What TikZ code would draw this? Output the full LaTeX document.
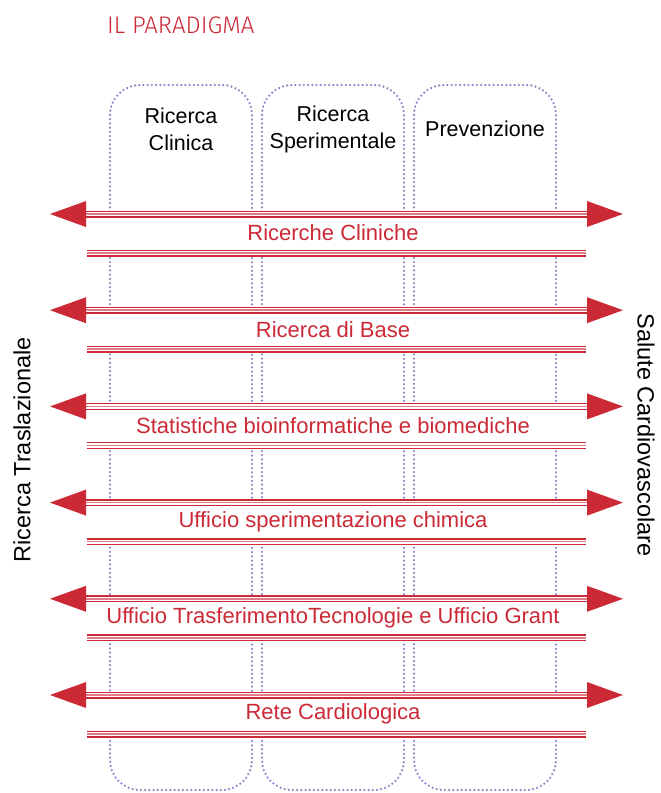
\documentclass[tikz,border=0pt]{standalone}
\usepackage{fontspec}
\setmainfont{Liberation Sans}
\newfontfamily\titlefont{Fira Sans Light}
\definecolor{bandred}{HTML}{CC2936}
\definecolor{bandpink}{HTML}{E07A84}
\definecolor{dotcol}{HTML}{8E86CC}
\begin{document}
\begin{tikzpicture}[x=1pt,y=-1pt,
  colbox/.style={draw=dotcol,line width=2.5pt,dash pattern=on 0pt off 4.2pt,line cap=round,rounded corners=30pt},
  collabel/.style={font=\fontsize{21.5}{27}\selectfont,align=center,text=black,inner sep=0pt},
  bandtext/.style={font=\fontsize{22}{24}\selectfont,text=bandred,inner sep=0pt},
  sidelabel/.style={font=\fontsize{23.5}{26}\selectfont,text=black,inner sep=0pt},
  tripleouter/.style={draw=bandred,line width=7pt},
  triplegap/.style={draw=white,line width=4.2pt},
  triplemid/.style={draw=bandpink,line width=1.5pt},
  headtri/.style={fill=bandred,draw=none},
  cover/.style={fill=white,draw=none}]
\useasboundingbox (0,0) rectangle (661,793);
% columns
\draw[colbox] (110,85) rectangle (252,790);
\draw[colbox] (262,85) rectangle (404,790);
\draw[colbox] (414,85) rectangle (556,790);
\node[collabel] (c1) at (181,129) {Ricerca\\Clinica};
\node[collabel] (c2) at (333,129) {Ricerca\\Sperimentale};
\node[collabel] (c3) at (485,129) {Prevenzione};
% title
\node[font=\titlefont\fontsize{24}{26}\selectfont,text=bandred,anchor=west,inner sep=0pt] (title) at (107,25) {IL PARADIGMA};
% side labels
\node[sidelabel,rotate=90] (left) at (22,450) {Ricerca Traslazionale};
\node[sidelabel,rotate=-90] (right) at (646,435) {Salute Cardiovascolare};
% bands
\foreach \i/\t in {0/Ricerche Cliniche,1/Ricerca di Base,2/Statistiche bioinformatiche e biomediche,3/Ufficio sperimentazione chimica,4/Ufficio TrasferimentoTecnologie e Ufficio Grant,5/Rete Cardiologica}{
  \pgfmathsetmacro{\ya}{214+96.2*\i}
  \pgfmathsetmacro{\yb}{253+96.2*\i}
  \pgfmathsetmacro{\yt}{233+96.2*\i}
  \coordinate (a\i) at (86,\ya);
  \coordinate (b\i) at (587,\ya);
  \coordinate (c\i) at (87,\yb);
  \coordinate (d\i) at (586,\yb);
  \fill[cover] (87,\ya) rectangle (586,\yb);
  \foreach \s in {tripleouter,triplegap,triplemid}{
    \draw[\s] (a\i) -- (b\i);
    \draw[\s] (c\i) -- (d\i);
  }
  \fill[headtri] (a\i) ++(0,-13) -- ++(0,26) -- ++(-36,-13) -- cycle;
  \fill[headtri] (b\i) ++(0,-13) -- ++(0,26) -- ++(36,-13) -- cycle;
  \node[bandtext] (t\i) at (333,\yt) {\t};
}
\end{tikzpicture}
\end{document}
